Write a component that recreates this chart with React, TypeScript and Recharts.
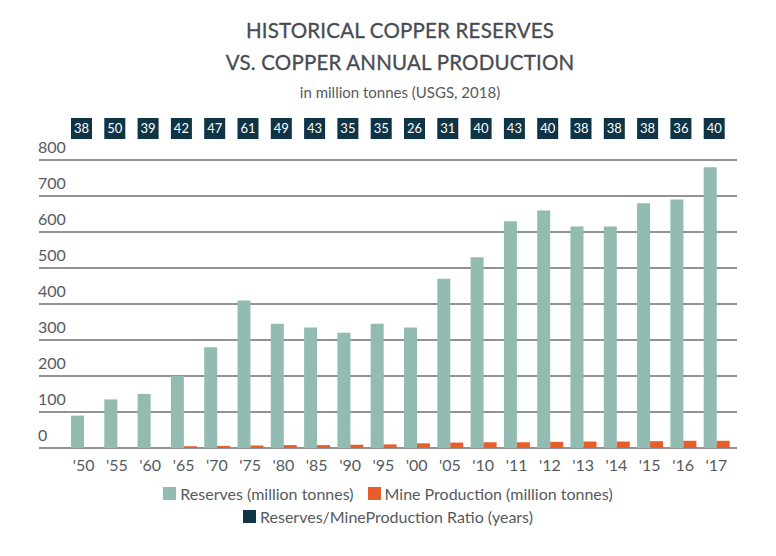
import { BarChart, Bar, XAxis, YAxis, CartesianGrid, LabelList } from 'recharts'

// ---------------------------------------------------------------------------
// Data (USGS, 2018)
// ---------------------------------------------------------------------------

const years = ["'50", "'55", "'60", "'65", "'70", "'75", "'80", "'85", "'90", "'95", "'00", "'05", "'10", "'11", "'12", "'13", "'14", "'15", "'16", "'17"]
const reserves = [90, 135, 150, 200, 280, 410, 345, 335, 320, 345, 335, 470, 530, 630, 660, 615, 615, 680, 690, 780]
const production = [null, null, null, 5, 6, 7, 8, 8, 9, 10, 13, 15, 16, 16, 17, 18, 18, 19, 20, 20]
const ratio = [38, 50, 39, 42, 47, 61, 49, 43, 35, 35, 26, 31, 40, 43, 40, 38, 38, 38, 36, 40]
const yTicks = [0, 100, 200, 300, 400, 500, 600, 700, 800]

const data = years.map((year, i) => ({
  year,
  reserves: reserves[i],
  production: production[i],
  ratio: ratio[i],
}))

const TEAL = '#92bcb1'
const ORANGE = '#e75e2b'
const NAVY = '#0e3446'
const TEXT = '#555a5e'
const FONT = 'Lato, "Open Sans", sans-serif'

const BOX_Y = 118

function RatioBox(props: any) {
  const { x, value } = props
  return (
    <g>
      <rect x={x} y={BOX_Y} width={21} height={21} fill={NAVY} />
      <text
        x={x + 10.5}
        y={BOX_Y + 15}
        textAnchor="middle"
        fill="#ffffff"
        fontSize={13}
        fontFamily={FONT}
      >
        {value}
      </text>
    </g>
  )
}

// y labels sit above their gridline, left aligned
function YTick(props: any) {
  const { y, payload } = props
  return (
    <text x={38} y={y - 7} fill={TEXT} fontSize={16} fontFamily={FONT} textAnchor="start">
      {payload.value}
    </text>
  )
}

function LegendItem({ color, label }: { color: string; label: string }) {
  return (
    <span style={{ display: 'inline-flex', alignItems: 'center', margin: '0 7px' }}>
      <span style={{ width: 13, height: 13, background: color, display: 'inline-block', marginRight: 4 }} />
      {label}
    </span>
  )
}

export default function App() {
  return (
    <div style={{ position: 'absolute', left: 0, top: 0, width: 776, height: 556, background: '#fff', fontFamily: FONT }}>
      {/* Title */}
      <div style={{ position: 'absolute', left: 0, top: 14, width: 800, textAlign: 'center', color: '#474c51' }}>
        <div style={{ fontSize: 20.5, lineHeight: '32px', letterSpacing: 0.2, WebkitTextStroke: '0.3px #474c51' }}>HISTORICAL COPPER RESERVES</div>
        <div style={{ fontSize: 20.5, lineHeight: '32px', letterSpacing: 0.2, WebkitTextStroke: '0.3px #474c51' }}>VS. COPPER ANNUAL PRODUCTION</div>
        <div style={{ fontSize: 15, lineHeight: '28px', color: TEXT }}>in million tonnes (USGS, 2018)</div>
      </div>

      <div style={{ position: 'absolute', left: 0, top: 0 }}>
        <BarChart
          width={776}
          height={556}
          data={data}
          margin={{ top: 160, right: 39, bottom: 78, left: 38 }}
          barSize={13}
          barGap={0}
        >
          <CartesianGrid horizontal vertical={false} stroke="#6f6f6f" strokeWidth={1.5} />
          <XAxis
            dataKey="year"
            height={30}
            axisLine={false}
            tickLine={false}
            interval={0}
            padding={{ left: 28, right: 4 }}
            tick={{ fontSize: 16, fill: TEXT, fontFamily: FONT }}
            tickMargin={6}
          />
          <YAxis
            width={1}
            domain={[0, 800]}
            ticks={yTicks}
            interval={0}
            axisLine={false}
            tickLine={false}
            tick={YTick}
          />
          <Bar dataKey="reserves" fill={TEAL} isAnimationActive={false}>
            <LabelList dataKey="ratio" content={<RatioBox />} />
          </Bar>
          <Bar dataKey="production" fill={ORANGE} isAnimationActive={false} />
        </BarChart>
      </div>

      {/* Legend */}
      <div style={{ position: 'absolute', left: 0, top: 482, width: 776, textAlign: 'center', color: TEXT, fontSize: 16, lineHeight: '23px' }}>
        <div>
          <LegendItem color={TEAL} label="Reserves (million tonnes)" />
          <LegendItem color={ORANGE} label="Mine Production (million tonnes)" />
        </div>
        <div>
          <LegendItem color={NAVY} label="Reserves/MineProduction Ratio (years)" />
        </div>
      </div>
    </div>
  )
}
